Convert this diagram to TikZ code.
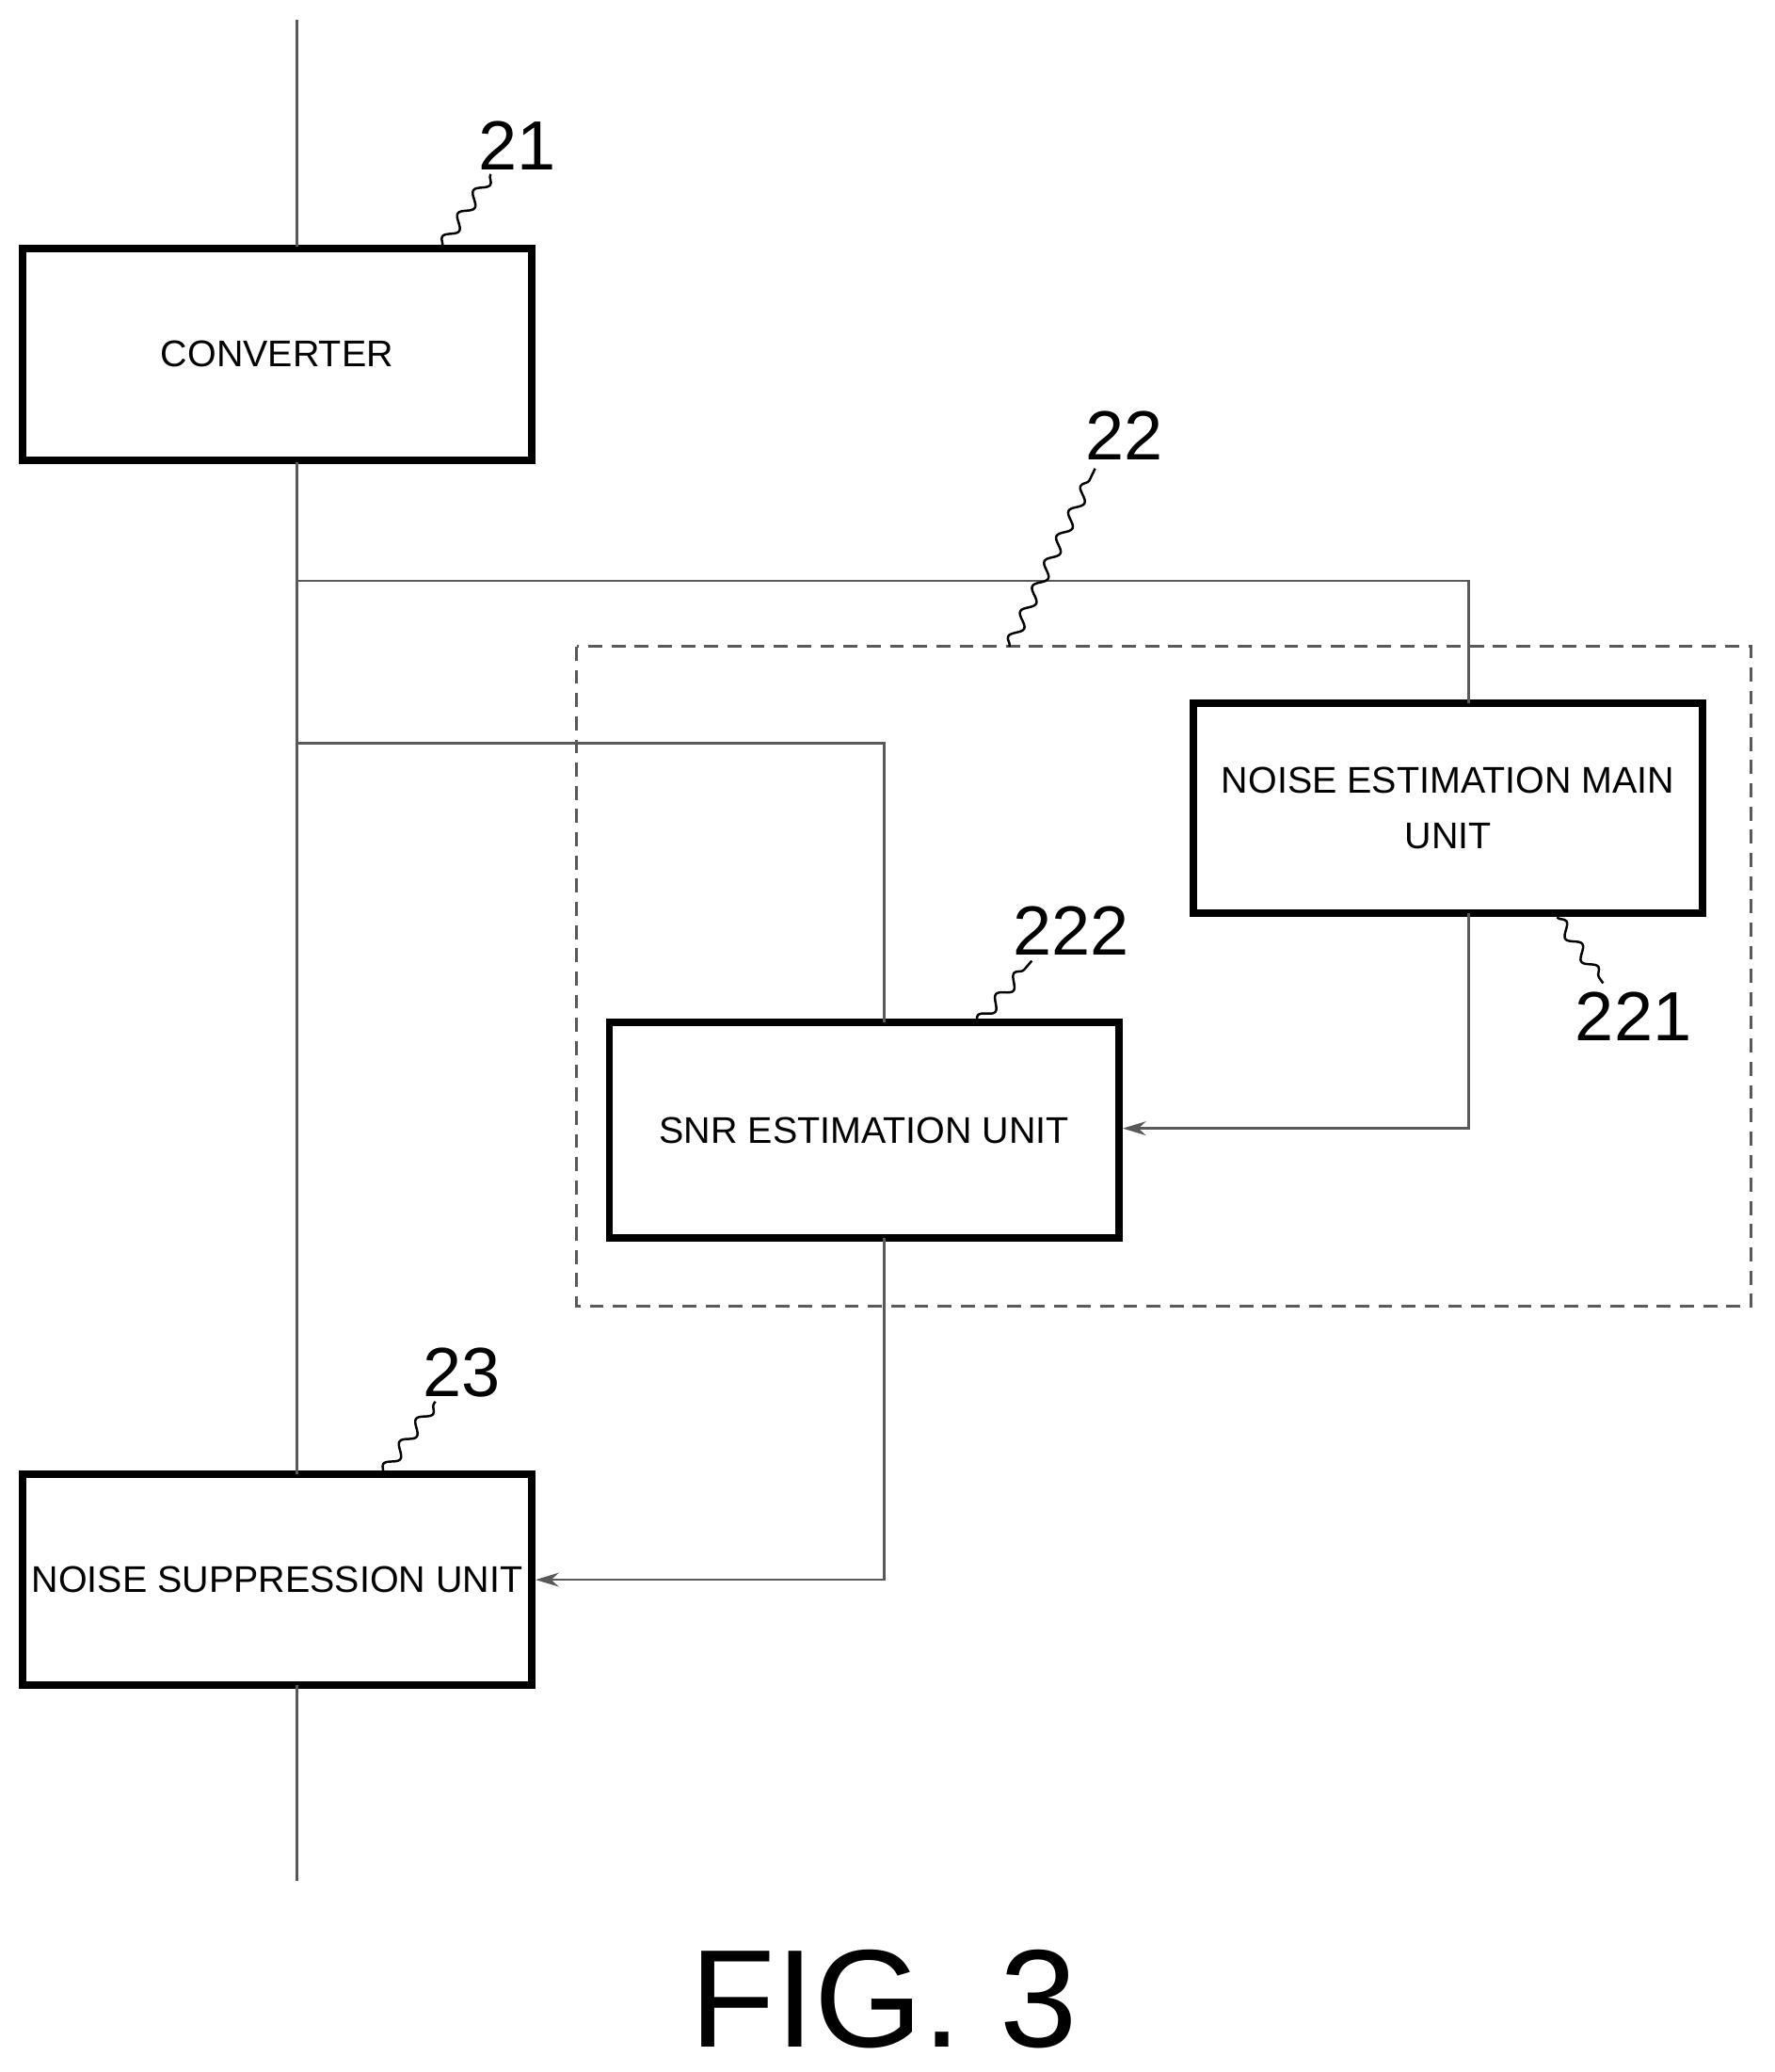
\documentclass[tikz,border=0pt]{standalone}
\usepackage{fontspec}
\setmainfont{Liberation Sans}
\usetikzlibrary{arrows.meta,decorations.pathmorphing}
\begin{document}
\begin{tikzpicture}[x=0.01cm,y=-0.01cm,
  blk/.style={draw,line width=1.6pt,minimum width=3.86cm,minimum height=1.6cm,align=center,font=\fontsize{8}{12}\selectfont,inner sep=0pt},
  wire/.style={line width=0.5pt,gray!70!black},
  arr/.style={wire,-{Stealth[length=5pt,width=3pt]}},
  ref/.style={font=\fontsize{15}{15}\selectfont},
  lead/.style={line width=0.5pt,decorate,decoration={snake,amplitude=1.2pt,segment length=6pt}}]
\useasboundingbox (0,0) rectangle (1345,1570);
\node[blk] (conv) at (210,268.5) {CONVERTER};
\node[blk,minimum height=1.59cm] (nem) at (1097.5,612.5) {NOISE ESTIMATION MAIN\\UNIT};
\node[blk,minimum width=3.86cm,minimum height=1.63cm] (snr) at (655,856.5) {SNR ESTIMATION UNIT};
\node[blk,minimum height=1.6cm] (ns) at (210,1197) {NOISE SUPPRESSION UNIT};
\draw[line width=0.6pt,dashed,dash pattern=on 3pt off 2pt,gray!70!black] (437,490) rectangle (1327,990);
\coordinate (top) at (225,15);
\coordinate (bot) at (225,1425);
\coordinate (b1) at (225,440);
\coordinate (b2) at (225,563);
\draw[wire] (top) -- (225,187);
\draw[wire] (225,350) -- (225,1117);
\draw[wire] (225,1277) -- (bot);
\draw[wire] (b1) -- (1113,440) -- (1113,533);
\draw[wire] (b2) -- (670,563) -- (670,775);
\draw[arr] (1113,692) -- (1113,855) -- (snr.east |- 0,855);
\draw[arr] (670,938) -- (670,1197) -- (ns.east);
\node[ref] (l21) at (392,110) {21};
\node[ref] (l22) at (852,330) {22};
\node[ref] (l221) at (1238,770) {221};
\node[ref] (l222) at (812,705) {222};
\node[ref] (l23) at (350,1040) {23};
\draw[lead] (335,187) -- (372,132);
\draw[lead] (765,490) -- (830,355);
\draw[lead] (1180,695) -- (1215,745);
\draw[lead] (740,777) -- (782,728);
\draw[lead] (290,1117) -- (330,1062);
\node[font=\fontsize{30}{30}\selectfont] (fig) at (670,1515) {FIG. 3};
\end{tikzpicture}
\end{document}
